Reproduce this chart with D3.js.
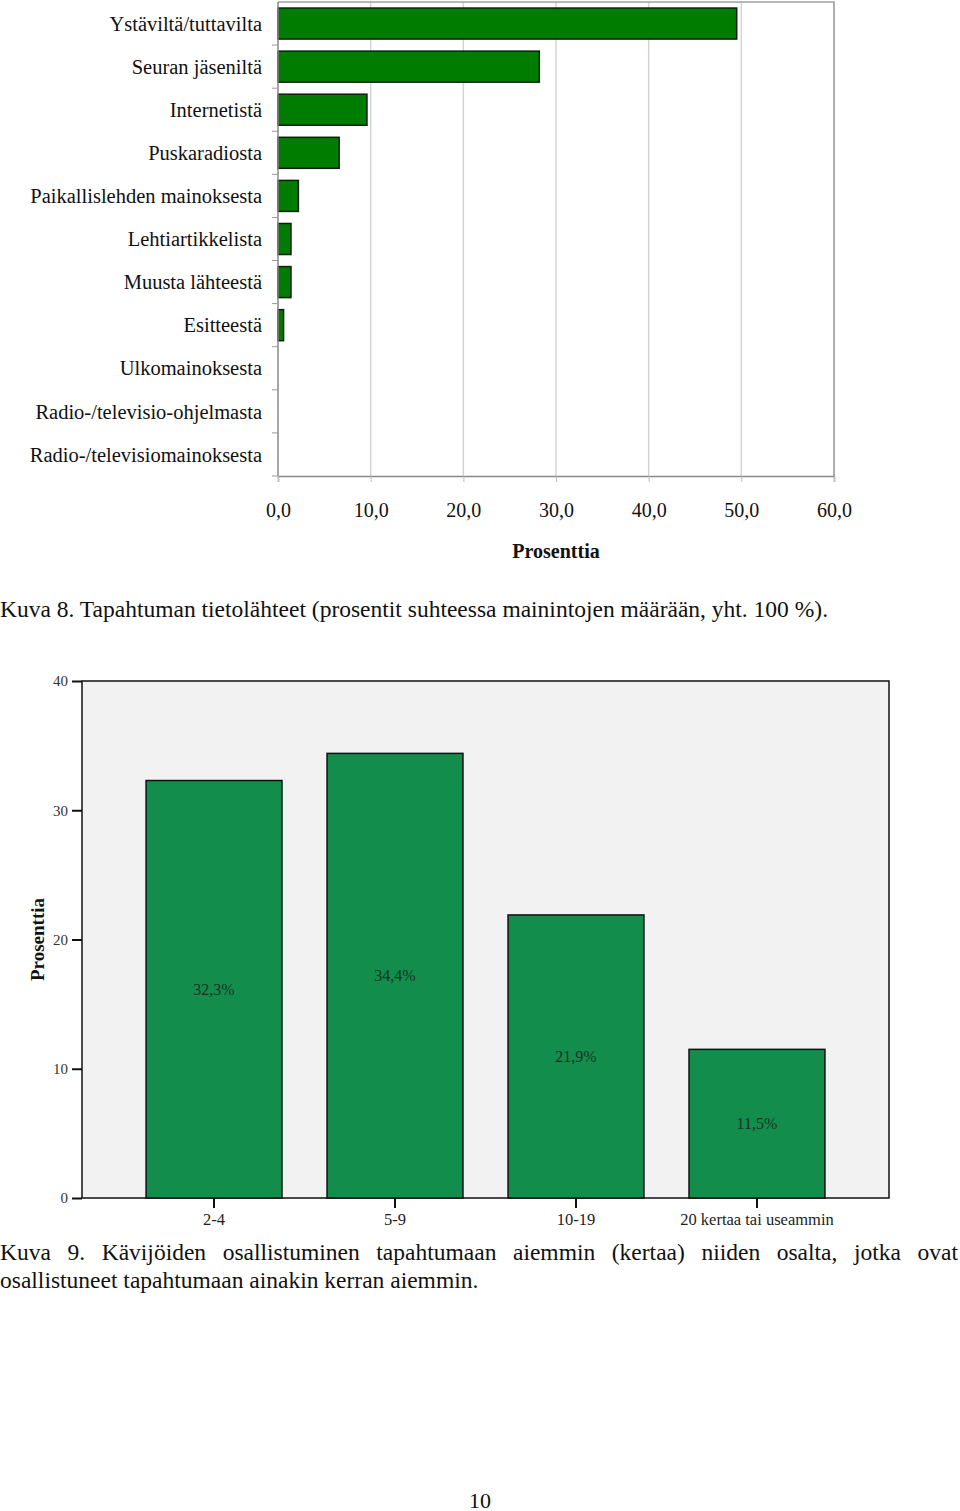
<!DOCTYPE html>
<html>
<head>
<meta charset="utf-8">
<script src="https://cdn.jsdelivr.net/npm/d3@7"></script>
<style>
  body { margin: 0; background: #fff; }
  #page { position: relative; width: 960px; height: 1511px; font-family: "Liberation Serif", "DejaVu Serif", serif; color: #111; }
  svg { position: absolute; left: 0; top: 0; }
  .caption { position: absolute; left: 0; width: 958px; font-size: 23.5px; line-height: 28px; }
  #cap9 { text-align: justify; }
  #pagenum { position: absolute; top: 1488px; width: 960px; text-align: center; font-size: 22px; }
</style>
</head>
<body>
<div id="page">
  <svg id="chart" width="960" height="1511"></svg>
  <div class="caption" style="top:595px">Kuva 8. Tapahtuman tietolähteet (prosentit suhteessa mainintojen määrään, yht. 100 %).</div>
  <div class="caption" id="cap9" style="top:1238px">Kuva 9. Kävijöiden osallistuminen tapahtumaan aiemmin (kertaa) niiden osalta, jotka ovat osallistuneet tapahtumaan ainakin kerran aiemmin.</div>
  <div id="pagenum">10</div>
</div>
<script>
// Kuva 8 - tietolähteet
var sources = ["Ystäviltä/tuttavilta", "Seuran jäseniltä", "Internetistä", "Puskaradiosta",
    "Paikallislehden mainoksesta", "Lehtiartikkelista", "Muusta lähteestä", "Esitteestä",
    "Ulkomainoksesta", "Radio-/televisio-ohjelmasta", "Radio-/televisiomainoksesta"];
var sourceValues = [49.5, 28.2, 9.6, 6.6, 2.2, 1.4, 1.4, 0.6, 0, 0, 0];
var pctTicks = [0, 10, 20, 30, 40, 50, 60];

// Kuva 9 - osallistumiskerrat
var visitCats = ["2-4", "5-9", "10-19", "20 kertaa tai useammin"];
var visitValues = [32.3, 34.4, 21.9, 11.5];
var visitTicks = [0, 10, 20, 30, 40];

var svg = d3.select("#chart");
var fmt = function(v) { return d3.format(".1f")(v).replace(".", ","); };

// ---------- top chart ----------
var m1 = {left: 278, right: 834, top: 2, bottom: 476};
var x1 = d3.scaleLinear().domain([0, 60]).range([m1.left, m1.right]);
var y1 = d3.scaleBand().domain(sources).range([m1.top, m1.bottom]).paddingInner(0.28).paddingOuter(0.14);
var band1 = d3.scaleBand().domain(sources).range([m1.top, m1.bottom]);

var g1 = svg.append("g");

// gridlines
g1.selectAll("line.grid").data(pctTicks.slice(1)).enter().append("line")
    .attr("x1", function(d) { return x1(d); }).attr("x2", function(d) { return x1(d); })
    .attr("y1", m1.top).attr("y2", m1.bottom)
    .attr("stroke", "#d4d4d4").attr("stroke-width", 1.5);
// frame top + right
g1.append("path")
    .attr("d", "M" + m1.left + "," + m1.top + "H" + m1.right + "V" + m1.bottom)
    .attr("fill", "none").attr("stroke", "#a0a0a0").attr("stroke-width", 1.5);

g1.selectAll("rect.bar").data(sourceValues).enter().append("rect")
    .attr("x", x1(0))
    .attr("y", function(d, i) { return y1(sources[i]); })
    .attr("width", function(d) { return x1(d) - x1(0); })
    .attr("height", y1.bandwidth())
    .attr("fill", "#007d00")
    .attr("stroke", "#0b200b").attr("stroke-width", 1.5)
    .style("display", function(d) { return d > 0 ? null : "none"; });

// y axis with ticks between bands
var yAxisG = g1.append("g");
yAxisG.append("line").attr("x1", m1.left).attr("x2", m1.left).attr("y1", m1.top).attr("y2", m1.bottom)
    .attr("stroke", "#888").attr("stroke-width", 1.5);
yAxisG.selectAll("line.tk").data(sources).enter().append("line")
    .attr("x1", m1.left - 6).attr("x2", m1.left)
    .attr("y1", function(d) { return band1(d) + band1.bandwidth(); })
    .attr("y2", function(d) { return band1(d) + band1.bandwidth(); })
    .attr("stroke", "#999").attr("stroke-width", 1);
yAxisG.selectAll("text").data(sources).enter().append("text")
    .attr("x", m1.left - 16)
    .attr("y", function(d) { return band1(d) + band1.bandwidth() / 2; })
    .attr("dy", "0.35em")
    .attr("text-anchor", "end")
    .attr("font-size", 20.5)
    .attr("fill", "#111")
    .text(function(d) { return d; });

// x axis
var xAxis1 = d3.axisBottom(x1).tickValues(pctTicks).tickFormat(fmt).tickSize(6).tickPadding(21);
var xg = g1.append("g").attr("transform", "translate(0," + m1.bottom + ")").call(xAxis1);
xg.select(".domain").attr("stroke", "#888").attr("stroke-width", 1.5);
xg.selectAll(".tick line").attr("stroke", "#bbb");
xg.selectAll("text").attr("font-family", "Liberation Serif, serif").attr("font-size", 20).attr("fill", "#111");

g1.append("text")
    .attr("x", (m1.left + m1.right) / 2).attr("y", 558)
    .attr("text-anchor", "middle")
    .attr("font-size", 20).attr("font-weight", "bold")
    .attr("fill", "#111")
    .text("Prosenttia");

// ---------- bottom chart ----------
var m2 = {left: 82, right: 889, top: 681, bottom: 1198};
var x2 = d3.scaleBand().domain(visitCats).range([m2.left, m2.right]).paddingInner(0.249).paddingOuter(0.354);
var y2 = d3.scaleLinear().domain([0, 40]).range([m2.bottom, m2.top]);

var g2 = svg.append("g");
g2.append("rect")
    .attr("x", m2.left).attr("y", m2.top)
    .attr("width", m2.right - m2.left).attr("height", m2.bottom - m2.top)
    .attr("fill", "#f2f2f2").attr("stroke", "#111").attr("stroke-width", 1.5);

g2.selectAll("rect.bar").data(visitValues).enter().append("rect")
    .attr("x", function(d, i) { return x2(visitCats[i]); })
    .attr("y", function(d) { return y2(d); })
    .attr("width", x2.bandwidth())
    .attr("height", function(d) { return y2(0) - y2(d); })
    .attr("fill", "#128d4b").attr("stroke", "#111").attr("stroke-width", 1.5);

g2.selectAll("text.lbl").data(visitValues).enter().append("text")
    .attr("x", function(d, i) { return x2(visitCats[i]) + x2.bandwidth() / 2; })
    .attr("y", function(d) { return (y2(d) + y2(0)) / 2; })
    .attr("dy", "0.35em")
    .attr("text-anchor", "middle")
    .attr("font-size", 16).attr("fill", "#17331f")
    .text(function(d) { return fmt(d) + "%"; });

var yAxis2 = d3.axisLeft(y2).tickValues(visitTicks).tickFormat(d3.format("d")).tickSize(10).tickPadding(4);
var yg2 = g2.append("g").attr("transform", "translate(" + m2.left + ",0)").call(yAxis2);
yg2.select(".domain").remove();
yg2.selectAll(".tick line").attr("stroke", "#111").attr("stroke-width", 2);
yg2.selectAll("text").attr("font-family", "Liberation Serif, serif").attr("font-size", 15).attr("fill", "#333");

var xAxis2 = d3.axisBottom(x2).tickSize(10).tickPadding(5);
var xg2 = g2.append("g").attr("transform", "translate(0," + m2.bottom + ")").call(xAxis2);
xg2.select(".domain").remove();
xg2.selectAll(".tick line").attr("stroke", "#111").attr("stroke-width", 2);
xg2.selectAll("text").attr("font-family", "Liberation Serif, serif").attr("font-size", 16.5).attr("fill", "#222");

g2.append("text")
    .attr("transform", "translate(44," + ((m2.top + m2.bottom) / 2) + ") rotate(-90)")
    .attr("text-anchor", "middle")
    .attr("font-size", 19).attr("font-weight", "bold").attr("fill", "#111")
    .text("Prosenttia");
</script>
</body>
</html>
